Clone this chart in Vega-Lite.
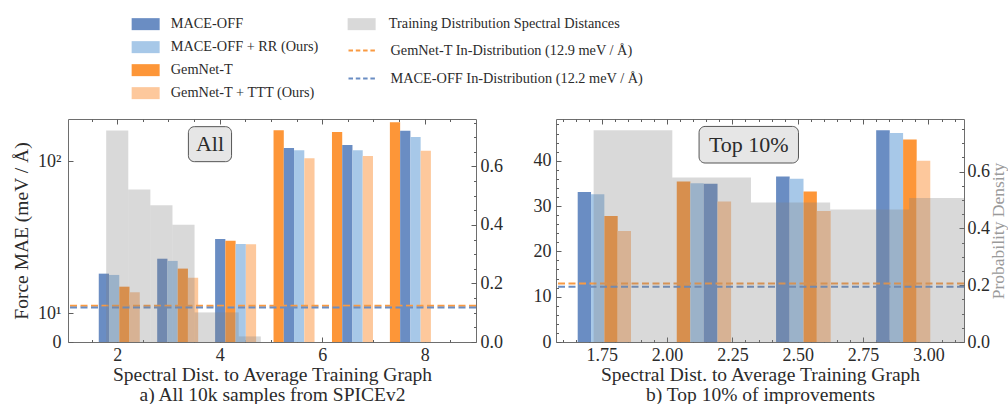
{
  "$schema": "https://vega.github.io/schema/vega-lite/v6.json",
  "background": "white",
  "padding": {"left": 11, "top": 17, "right": 0, "bottom": 0},
  "config": {
    "font": "Liberation Serif",
    "view": {"stroke": "#6e6e6e", "strokeWidth": 1},
    "axis": {"labelFont": "Liberation Serif", "labelFontSize": 18, "labelColor": "#2b2b2b", "titleFont": "Liberation Serif", "titleFontSize": 19.5, "titleFontWeight": "normal", "titleColor": "#2b2b2b", "tickColor": "#5e5e5e", "tickWidth": 1, "domain": false, "grid": false, "labelFlush": false, "labelOverlap": false, "zindex": 1},
    "legend": {"labelFont": "Liberation Serif", "labelFontSize": 14.3, "labelColor": "#2b2b2b", "padding": 0, "labelLimit": 0}
  },
  "datasets": {
    "barsAll": [
      {"model": "MACE-OFF", "lo": 1.64, "hi": 1.84, "mae": 26.7},
      {"model": "MACE-OFF + RR (Ours)", "lo": 1.84, "hi": 2.04, "mae": 26.1},
      {"model": "GemNet-T", "lo": 2.04, "hi": 2.24, "mae": 20.8},
      {"model": "GemNet-T + TTT (Ours)", "lo": 2.24, "hi": 2.44, "mae": 18.4},
      {"model": "MACE-OFF", "lo": 2.78, "hi": 2.98, "mae": 34.0},
      {"model": "MACE-OFF + RR (Ours)", "lo": 2.98, "hi": 3.18, "mae": 32.9},
      {"model": "GemNet-T", "lo": 3.18, "hi": 3.38, "mae": 29.1},
      {"model": "GemNet-T + TTT (Ours)", "lo": 3.38, "hi": 3.58, "mae": 24.8},
      {"model": "MACE-OFF", "lo": 3.91, "hi": 4.11, "mae": 44.6},
      {"model": "GemNet-T", "lo": 4.11, "hi": 4.31, "mae": 43.7},
      {"model": "MACE-OFF + RR (Ours)", "lo": 4.31, "hi": 4.51, "mae": 41.8},
      {"model": "GemNet-T + TTT (Ours)", "lo": 4.51, "hi": 4.71, "mae": 41.7},
      {"model": "GemNet-T", "lo": 5.05, "hi": 5.25, "mae": 129.4},
      {"model": "MACE-OFF", "lo": 5.25, "hi": 5.45, "mae": 111.9},
      {"model": "MACE-OFF + RR (Ours)", "lo": 5.45, "hi": 5.65, "mae": 109.7},
      {"model": "GemNet-T + TTT (Ours)", "lo": 5.65, "hi": 5.85, "mae": 102.5},
      {"model": "GemNet-T", "lo": 6.19, "hi": 6.39, "mae": 127.6},
      {"model": "MACE-OFF", "lo": 6.39, "hi": 6.59, "mae": 114.8},
      {"model": "MACE-OFF + RR (Ours)", "lo": 6.59, "hi": 6.79, "mae": 109.7},
      {"model": "GemNet-T + TTT (Ours)", "lo": 6.79, "hi": 6.99, "mae": 104.5},
      {"model": "GemNet-T", "lo": 7.32, "hi": 7.52, "mae": 137.9},
      {"model": "MACE-OFF", "lo": 7.52, "hi": 7.72, "mae": 129.0},
      {"model": "MACE-OFF + RR (Ours)", "lo": 7.72, "hi": 7.92, "mae": 122.6},
      {"model": "GemNet-T + TTT (Ours)", "lo": 7.92, "hi": 8.12, "mae": 109.4}
    ],
    "histAll": [
      {"series": "Training Distribution Spectral Distances", "lo": 1.785, "hi": 2.216, "density": 0.723},
      {"series": "Training Distribution Spectral Distances", "lo": 2.216, "hi": 2.647, "density": 0.521},
      {"series": "Training Distribution Spectral Distances", "lo": 2.647, "hi": 3.078, "density": 0.467},
      {"series": "Training Distribution Spectral Distances", "lo": 3.078, "hi": 3.509, "density": 0.401},
      {"series": "Training Distribution Spectral Distances", "lo": 3.509, "hi": 3.94, "density": 0.101},
      {"series": "Training Distribution Spectral Distances", "lo": 3.94, "hi": 4.371, "density": 0.101},
      {"series": "Training Distribution Spectral Distances", "lo": 4.371, "hi": 4.802, "density": 0.019}
    ],
    "barsTop": [
      {"model": "MACE-OFF", "lo": 1.658, "hi": 1.709, "mae": 33.1},
      {"model": "MACE-OFF + RR (Ours)", "lo": 1.709, "hi": 1.76, "mae": 32.6},
      {"model": "GemNet-T", "lo": 1.76, "hi": 1.811, "mae": 27.8},
      {"model": "GemNet-T + TTT (Ours)", "lo": 1.811, "hi": 1.862, "mae": 24.5},
      {"model": "GemNet-T", "lo": 2.037, "hi": 2.089, "mae": 35.4},
      {"model": "MACE-OFF + RR (Ours)", "lo": 2.089, "hi": 2.14, "mae": 35.0},
      {"model": "MACE-OFF", "lo": 2.14, "hi": 2.193, "mae": 34.9},
      {"model": "GemNet-T + TTT (Ours)", "lo": 2.193, "hi": 2.245, "mae": 31.0},
      {"model": "MACE-OFF", "lo": 2.417, "hi": 2.469, "mae": 36.5},
      {"model": "MACE-OFF + RR (Ours)", "lo": 2.469, "hi": 2.522, "mae": 36.0},
      {"model": "GemNet-T", "lo": 2.522, "hi": 2.573, "mae": 33.2},
      {"model": "GemNet-T + TTT (Ours)", "lo": 2.573, "hi": 2.626, "mae": 28.9},
      {"model": "MACE-OFF", "lo": 2.8, "hi": 2.852, "mae": 46.7},
      {"model": "MACE-OFF + RR (Ours)", "lo": 2.852, "hi": 2.903, "mae": 46.1},
      {"model": "GemNet-T", "lo": 2.903, "hi": 2.955, "mae": 44.7},
      {"model": "GemNet-T + TTT (Ours)", "lo": 2.955, "hi": 3.007, "mae": 40.0}
    ],
    "histTop": [
      {"series": "Training Distribution Spectral Distances", "lo": 1.719, "hi": 2.02, "density": 0.745},
      {"series": "Training Distribution Spectral Distances", "lo": 2.02, "hi": 2.321, "density": 0.579},
      {"series": "Training Distribution Spectral Distances", "lo": 2.321, "hi": 2.624, "density": 0.491},
      {"series": "Training Distribution Spectral Distances", "lo": 2.624, "hi": 2.926, "density": 0.466},
      {"series": "Training Distribution Spectral Distances", "lo": 2.926, "hi": 3.227, "density": 0.507}
    ],
    "lines": [
      {"name": "GemNet-T In-Distribution (12.9 meV / Å)", "mae": 12.9},
      {"name": "MACE-OFF In-Distribution (12.2 meV / Å)", "mae": 12.2}
    ]
  },
  "spacing": 29,
  "hconcat": [
    {
      "width": 408,
      "height": 223,
      "layer": [
        {
          "layer": [
            {
              "data": {"name": "barsAll"},
              "mark": {"type": "rect"},
              "encoding": {
                "x": {"field": "lo", "type": "quantitative", "scale": {"domain": [1.04, 9.0], "nice": false, "zero": false},
                  "axis": {"orient": "bottom", "values": [2, 4, 6, 8], "format": "d",
                    "offset": -5, "tickSize": 5, "labelPadding": 4, "labelOverlap": false,
                    "title": ["Spectral Dist. to Average Training Graph", "a) All 10k samples from SPICEv2"],
                    "titlePadding": 1, "titleLineHeight": 20}},
                "x2": {"field": "hi"},
                "y": {"field": "mae", "type": "quantitative", "scale": {"type": "symlog", "constant": 58, "domain": [0, 141.5], "nice": false},
                  "axis": {"orient": "left", "values": [0, 10, 100],
                    "labelExpr": "datum.value === 0 ? '0' : (datum.value === 10 ? '10¹' : '10²')",
                    "offset": -5, "tickSize": 5, "labelPadding": 7, "labelOverlap": false,
                    "title": "Force MAE (meV / Å)", "titlePadding": 6}},
                "y2": {"datum": 0},
                "color": {"field": "model", "type": "nominal",
                  "scale": {"domain": ["MACE-OFF", "MACE-OFF + RR (Ours)", "GemNet-T", "GemNet-T + TTT (Ours)"], "range": ["#6a8dc3", "#a7c8e8", "#fd9638", "#fdc89c"]},
                  "legend": {"orient": "none", "legendX": 70.5, "legendY": -102, "title": null, "symbolType": "M-2,-0.857H2V0.857H-2Z", "symbolSize": 196, "symbolStrokeWidth": 0, "labelOffset": 18, "rowPadding": 8}}
              }
            },
            {
              "data": {"name": "lines"},
              "mark": {"type": "rule", "strokeDash": [7, 3.5], "strokeWidth": 2},
              "encoding": {
                "y": {"field": "mae", "type": "quantitative"},
                "stroke": {"field": "name", "type": "nominal",
                  "scale": {"domain": ["GemNet-T In-Distribution (12.9 meV / Å)", "MACE-OFF In-Distribution (12.2 meV / Å)"], "range": ["#f99a42", "#6a8dc3"]},
                  "legend": {"orient": "none", "legendX": 286.5, "legendY": -76.5, "title": null, "symbolType": "M-2,0H2", "symbolSize": 196, "symbolStrokeWidth": 1.8, "symbolDash": [4.5, 2.8], "labelOffset": 20, "rowPadding": 12}}
              }
            },
            {
              "data": {"values": [{"label": "All"}]},
              "mark": {"type": "rect", "cornerRadius": 6, "fill": "#e6e6e6", "stroke": "#555555", "strokeWidth": 1},
              "encoding": {"x": {"datum": 3.389}, "x2": {"datum": 4.231}, "y": {"datum": 99.5}, "y2": {"datum": 133.2}}
            },
            {
              "data": {"values": [{"label": "All"}]},
              "mark": {"type": "text", "fontSize": 22, "font": "Liberation Serif", "color": "#2b2b2b", "baseline": "middle"},
              "encoding": {"x": {"datum": 3.81}, "y": {"datum": 115.5}, "text": {"field": "label"}}
            }
          ]
        },
        {
          "data": {"name": "histAll"},
          "mark": {"type": "rect", "opacity": 0.3, "clip": true},
          "encoding": {
            "x": {"field": "lo", "type": "quantitative",
              "axis": {"orient": "top", "values": [2, 4, 6, 8], "labels": false, "offset": -5, "tickSize": 5, "title": null}},
            "x2": {"field": "hi"},
            "y": {"field": "density", "type": "quantitative", "scale": {"domain": [0, 0.762], "nice": false},
              "axis": {"orient": "right", "values": [0, 0.2, 0.4, 0.6], "format": ".1f",
                "offset": -5, "tickSize": 5, "labelPadding": 4, "labelOverlap": false, "title": null}},
            "y2": {"datum": 0},
            "fill": {"field": "series", "type": "nominal", "scale": {"range": ["#808080"]},
              "legend": {"orient": "none", "legendX": 286.5, "legendY": -102, "title": null, "symbolType": "M-2,-0.857H2V0.857H-2Z", "symbolSize": 196, "symbolStrokeWidth": 0, "symbolOpacity": 0.3, "labelOffset": 20}}
          }
        },
        {
          "data": {"name": "histAll"},
          "mark": {"type": "rect", "opacity": 0, "clip": true},
          "encoding": {
            "x": {"field": "lo", "type": "quantitative",
              "axis": {"orient": "bottom", "values": [1.5, 2.5, 3, 3.5, 4.5, 5, 5.5, 6.5, 7, 7.5, 8.5], "labels": false, "offset": -2.5, "tickSize": 2.5, "title": null}},
            "x2": {"field": "hi"},
            "y": {"field": "density", "type": "quantitative", "scale": {"domain": [0, 0.762], "nice": false},
              "axis": {"orient": "right", "values": [0.05, 0.1, 0.15, 0.25, 0.3, 0.35, 0.45, 0.5, 0.55, 0.65, 0.7, 0.75], "labels": false, "offset": -2.5, "tickSize": 2.5, "title": null}},
            "y2": {"datum": 0}
          }
        },
        {
          "data": {"name": "barsAll"},
          "mark": {"type": "rect", "opacity": 0},
          "encoding": {
            "x": {"field": "lo", "type": "quantitative",
              "axis": {"orient": "top", "values": [1.5, 2.5, 3, 3.5, 4.5, 5, 5.5, 6.5, 7, 7.5, 8.5], "labels": false, "offset": -2.5, "tickSize": 2.5, "title": null}},
            "x2": {"field": "hi"},
            "y": {"field": "mae", "type": "quantitative", "scale": {"type": "symlog", "constant": 58, "domain": [0, 141.5], "nice": false}, "axis": null},
            "y2": {"datum": 0}
          }
        }
      ],
      "resolve": {"scale": {"y": "independent"}, "axis": {"x": "independent", "y": "independent"}}
    },
    {
      "width": 408,
      "height": 223,
      "layer": [
        {
          "layer": [
            {
              "data": {"name": "barsTop"},
              "mark": {"type": "rect"},
              "encoding": {
                "x": {"field": "lo", "type": "quantitative", "scale": {"domain": [1.575, 3.136], "nice": false, "zero": false},
                  "axis": {"orient": "bottom", "values": [1.75, 2, 2.25, 2.5, 2.75, 3], "format": ".2f",
                    "offset": -5, "tickSize": 5, "labelPadding": 4, "labelOverlap": false,
                    "title": ["Spectral Dist. to Average Training Graph", "b) Top 10% of improvements"],
                    "titlePadding": 1, "titleLineHeight": 20}},
                "x2": {"field": "hi"},
                "y": {"field": "mae", "type": "quantitative", "scale": {"domain": [0, 49.2], "nice": false},
                  "axis": {"orient": "left", "values": [0, 10, 20, 30, 40], "format": "d",
                    "offset": -5, "tickSize": 5, "labelPadding": 5, "labelOverlap": false, "title": null}},
                "y2": {"datum": 0},
                "color": {"field": "model", "type": "nominal",
                  "scale": {"domain": ["MACE-OFF", "MACE-OFF + RR (Ours)", "GemNet-T", "GemNet-T + TTT (Ours)"], "range": ["#6a8dc3", "#a7c8e8", "#fd9638", "#fdc89c"]},
                  "legend": {"orient": "none", "legendX": 70.5, "legendY": -102, "title": null, "symbolType": "M-2,-0.857H2V0.857H-2Z", "symbolSize": 196, "symbolStrokeWidth": 0, "labelOffset": 18, "rowPadding": 8}}
              }
            },
            {
              "data": {"name": "lines"},
              "mark": {"type": "rule", "strokeDash": [7, 3.5], "strokeWidth": 2},
              "encoding": {
                "y": {"field": "mae", "type": "quantitative"},
                "stroke": {"field": "name", "type": "nominal",
                  "scale": {"domain": ["GemNet-T In-Distribution (12.9 meV / Å)", "MACE-OFF In-Distribution (12.2 meV / Å)"], "range": ["#f99a42", "#6a8dc3"]},
                  "legend": {"orient": "none", "legendX": 286.5, "legendY": -76.5, "title": null, "symbolType": "M-2,0H2", "symbolSize": 196, "symbolStrokeWidth": 1.8, "symbolDash": [4.5, 2.8], "labelOffset": 20, "rowPadding": 12}}
              }
            },
            {
              "data": {"values": [{"label": "Top 10%"}]},
              "mark": {"type": "rect", "cornerRadius": 6, "fill": "#e6e6e6", "stroke": "#555555", "strokeWidth": 1},
              "encoding": {"x": {"datum": 2.1224}, "x2": {"datum": 2.5027}, "y": {"datum": 39.49}, "y2": {"datum": 47.56}}
            },
            {
              "data": {"values": [{"label": "Top 10%"}]},
              "mark": {"type": "text", "fontSize": 22, "font": "Liberation Serif", "color": "#2b2b2b", "baseline": "middle"},
              "encoding": {"x": {"datum": 2.3126}, "y": {"datum": 43.5}, "text": {"field": "label"}}
            }
          ]
        },
        {
          "data": {"name": "histTop"},
          "mark": {"type": "rect", "opacity": 0.3, "clip": true},
          "encoding": {
            "x": {"field": "lo", "type": "quantitative",
              "axis": {"orient": "top", "values": [1.75, 2, 2.25, 2.5, 2.75, 3], "labels": false, "offset": -5, "tickSize": 5, "title": null}},
            "x2": {"field": "hi"},
            "y": {"field": "density", "type": "quantitative", "scale": {"domain": [0, 0.785], "nice": false},
              "axis": {"orient": "right", "values": [0, 0.2, 0.4, 0.6], "format": ".1f",
                "offset": -5, "tickSize": 5, "labelPadding": 3, "labelOverlap": false,
                "title": "Probability Density", "titleColor": "#9a9a9a", "titlePadding": 0, "titleFontSize": 17.5, "titleAngle": 270, "titleBaseline": "top"}},
            "y2": {"datum": 0},
            "fill": {"field": "series", "type": "nominal", "scale": {"range": ["#808080"]},
              "legend": {"orient": "none", "legendX": 286.5, "legendY": -102, "title": null, "symbolType": "M-2,-0.857H2V0.857H-2Z", "symbolSize": 196, "symbolStrokeWidth": 0, "symbolOpacity": 0.3, "labelOffset": 20}}
          }
        },
        {
          "data": {"name": "histTop"},
          "mark": {"type": "rect", "opacity": 0, "clip": true},
          "encoding": {
            "x": {"field": "lo", "type": "quantitative",
              "axis": {"orient": "bottom", "values": [1.6, 1.65, 1.7, 1.8, 1.85, 1.9, 1.95, 2.05, 2.1, 2.15, 2.2, 2.3, 2.35, 2.4, 2.45, 2.55, 2.6, 2.65, 2.7, 2.8, 2.85, 2.9, 2.95, 3.05, 3.1], "labels": false, "offset": -2.5, "tickSize": 2.5, "title": null}},
            "x2": {"field": "hi"},
            "y": {"field": "density", "type": "quantitative", "scale": {"domain": [0, 0.785], "nice": false},
              "axis": {"orient": "right", "values": [0.05, 0.1, 0.15, 0.25, 0.3, 0.35, 0.45, 0.5, 0.55, 0.65, 0.7, 0.75], "labels": false, "offset": -2.5, "tickSize": 2.5, "title": null}},
            "y2": {"datum": 0}
          }
        },
        {
          "data": {"name": "barsTop"},
          "mark": {"type": "rect", "opacity": 0},
          "encoding": {
            "x": {"field": "lo", "type": "quantitative", "axis": {"orient": "top", "values": [1.6, 1.65, 1.7, 1.8, 1.85, 1.9, 1.95, 2.05, 2.1, 2.15, 2.2, 2.3, 2.35, 2.4, 2.45, 2.55, 2.6, 2.65, 2.7, 2.8, 2.85, 2.9, 2.95, 3.05, 3.1], "labels": false, "offset": -2.5, "tickSize": 2.5, "title": null}},
            "x2": {"field": "hi"},
            "y": {"field": "mae", "type": "quantitative", "scale": {"domain": [0, 49.2], "nice": false},
              "axis": {"orient": "left", "values": [2, 4, 6, 8, 12, 14, 16, 18, 22, 24, 26, 28, 32, 34, 36, 38, 42, 44, 46, 48], "labels": false, "offset": -2.5, "tickSize": 2.5, "title": null}},
            "y2": {"datum": 0}
          }
        }
      ],
      "resolve": {"scale": {"y": "independent"}, "axis": {"x": "independent", "y": "independent"}}
    }
  ]
}
